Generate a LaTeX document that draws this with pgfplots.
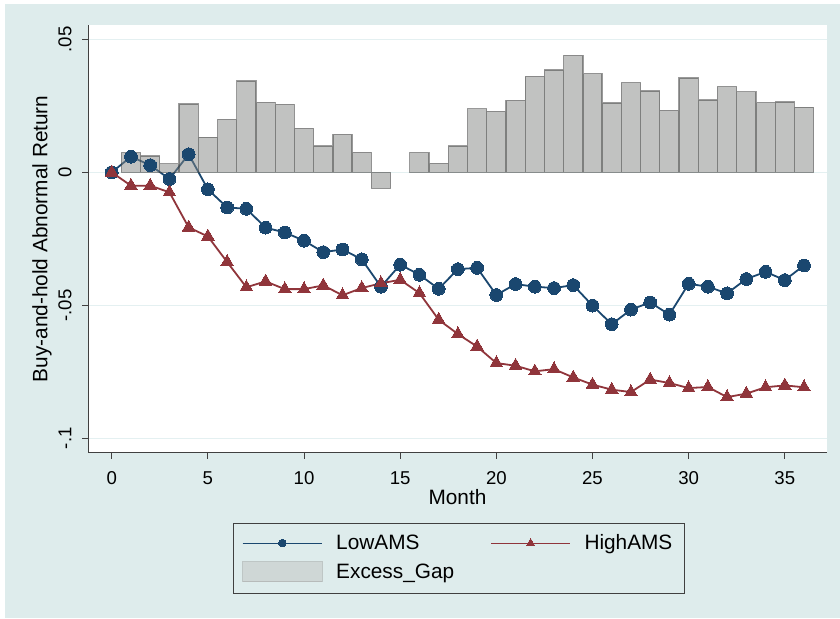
\documentclass[border=0pt]{standalone}
\usepackage{pgfplots}
\pgfplotsset{compat=1.18}
\usepackage{fontspec}
\setmainfont{Liberation Sans}
\definecolor{bgc}{RGB}{222,236,236}
\definecolor{gridc}{RGB}{228,240,241}
\definecolor{navy}{RGB}{26,71,111}
\definecolor{maroon}{RGB}{144,53,59}
\definecolor{barfill}{RGB}{133,135,133}
\definecolor{baredge}{RGB}{60,61,60}
\definecolor{legbar}{RGB}{194,195,194}
\definecolor{legedge}{RGB}{160,161,160}
\pgfplotsset{
  lowleg/.style={legend image code/.code={\draw[mark repeat=2,mark phase=2,navy,line width=1pt,mark=*,mark size=3.8pt,mark options={solid,fill=navy,draw=navy,line width=0pt}] plot coordinates {(0pt,0pt) (39.6pt,0pt) (79.3pt,0pt)};}},
  highleg/.style={legend image code/.code={\draw[mark repeat=2,mark phase=2,maroon,line width=1pt,mark=triangle*,mark size=4.6pt,mark options={solid,fill=maroon,draw=maroon,line width=0pt}] plot coordinates {(0pt,0pt) (39.6pt,0pt) (79.3pt,0pt)};}},
  barleg/.style={legend image code/.code={\draw[fill=legbar, draw=legedge, line width=1pt] (0pt,-10pt) rectangle (79.3pt,10pt);}},
}
\begin{document}
\begin{tikzpicture}
\useasboundingbox (-88.3pt,-165.3pt) rectangle (751.7pt,452.7pt);
\fill[bgc] (-83.3pt,-165.3pt) rectangle (751.7pt,448.7pt);
\begin{axis}[
  anchor=south west,
  scale only axis, width=738.4pt, height=427.7pt,
  xmin=-1.22, xmax=37.18, ymin=-0.1054, ymax=0.0554,
  axis background/.style={fill=white},
  axis x line*=bottom, axis y line*=left,
  axis line style={draw=black!75, line width=1.2pt, -},
  tick align=outside, major tick length=6pt,
  tick style={draw=black!75, line width=1pt},
  xtick={0,5,10,15,20,25,30,35},
  xticklabels={0,5,10,15,20,25,30,35},
  ytick={-0.1,-0.05,0,0.05},
  yticklabels={-.1,-.05,0,.05},
  ymajorgrids, major grid style={draw=gridc, line width=1.3pt},
  tick label style={font=\fontsize{18.6}{20}\selectfont},
  label style={font=\fontsize{20.8}{23}\selectfont},
  xticklabel style={anchor=north, inner sep=0pt, yshift=-12.6pt},
  yticklabel style={rotate=90, anchor=south, inner sep=0pt, yshift=10.6pt},
  xlabel={Month},
  ylabel={Buy-and-hold Abnormal Return},
  xlabel style={at={(axis description cs:0.5,-0.1036)}, anchor=center},
  ylabel style={at={(axis description cs:-0.0627,0.5)}, anchor=center},
  legend columns=2,
  legend cell align=left,
  legend style={at={(axis description cs:0.1956,-0.1651)}, anchor=north west,
    draw=black!75, line width=1pt, fill=bgc,
    inner xsep=9pt, inner ysep=11pt,
    column sep=13.7pt, row sep=10pt,
    font=\fontsize{20.8}{23}\selectfont,
    nodes={inner sep=0pt}},
]
\addplot[navy, line width=1.8pt, mark=*, mark size=6.4pt,
  mark options={solid, fill=navy, draw=navy, line width=0pt}, lowleg]
coordinates {
(0,0) (1,0.0059) (2,0.0027) (3,-0.0025) (4,0.0068) (5,-0.0064) (6,-0.0132)
(7,-0.0137) (8,-0.0208) (9,-0.0226) (10,-0.0257) (11,-0.0300) (12,-0.0290)
(13,-0.0327) (14,-0.0430) (15,-0.0347) (16,-0.0385) (17,-0.0438) (18,-0.0364)
(19,-0.0359) (20,-0.0461) (21,-0.0420) (22,-0.0430) (23,-0.0435) (24,-0.0424)
(25,-0.0501) (26,-0.0571) (27,-0.0516) (28,-0.0489) (29,-0.0535) (30,-0.0419)
(31,-0.0430) (32,-0.0455) (33,-0.0401) (34,-0.0374) (35,-0.0405) (36,-0.0350)
};
\addlegendentry{\makebox[140.6pt][l]{LowAMS}}
\addplot[maroon, line width=1.8pt, mark=triangle*, mark size=7.3pt,
  mark options={solid, fill=maroon, draw=maroon, line width=0pt}, highleg]
coordinates {
(0,0) (1,-0.0050) (2,-0.0050) (3,-0.0075) (4,-0.0207) (5,-0.0241) (6,-0.0337)
(7,-0.0432) (8,-0.0410) (9,-0.0439) (10,-0.0439) (11,-0.0425) (12,-0.0462)
(13,-0.0435) (14,-0.0417) (15,-0.0404) (16,-0.0454) (17,-0.0554) (18,-0.0608)
(19,-0.0655) (20,-0.0717) (21,-0.0727) (22,-0.0748) (23,-0.0740) (24,-0.0771)
(25,-0.0798) (26,-0.0817) (27,-0.0826) (28,-0.0779) (29,-0.0792) (30,-0.0811)
(31,-0.0807) (32,-0.0845) (33,-0.0832) (34,-0.0808) (35,-0.0801) (36,-0.0808)
};
\addlegendentry{\makebox[91pt][l]{HighAMS}}
\addplot[ybar, bar width=1, bar shift=0pt, fill=barfill, draw=baredge,
  line width=1.3pt, opacity=0.5, barleg]
coordinates {
(1,0.0074) (2,0.0062) (3,0.0032) (4,0.0257) (5,0.0132) (6,0.0199) (7,0.0344)
(8,0.0263) (9,0.0256) (10,0.0165) (11,0.0099) (12,0.0143) (13,0.0075)
(14,-0.0060) (16,0.0074) (17,0.0034) (18,0.0099) (19,0.0239) (20,0.0229)
(21,0.0271) (22,0.0361) (23,0.0385) (24,0.0440) (25,0.0371) (26,0.0261)
(27,0.0337) (28,0.0306) (29,0.0233) (30,0.0355) (31,0.0272) (32,0.0322)
(33,0.0303) (34,0.0262) (35,0.0265) (36,0.0245)
};
\addlegendentry{Excess\_Gap}
\end{axis}
\end{tikzpicture}
\end{document}
